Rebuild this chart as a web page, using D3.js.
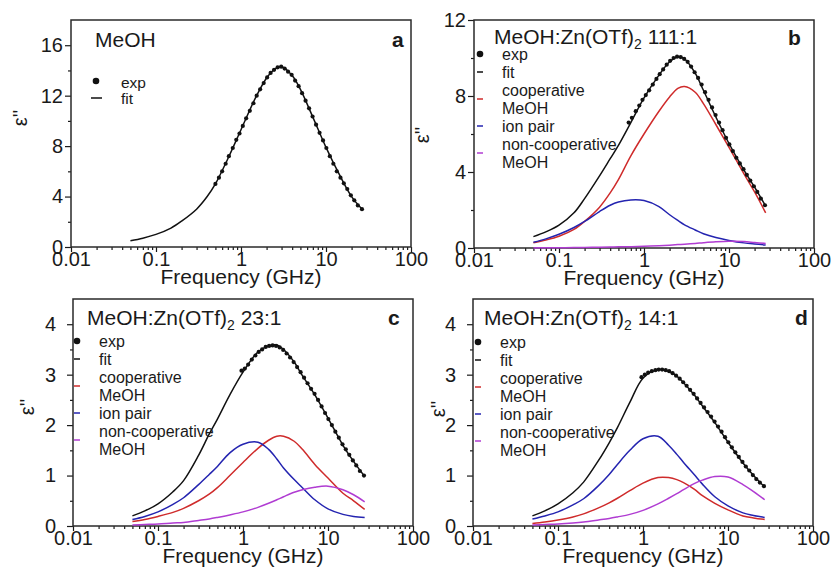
<!DOCTYPE html>
<html>
<head>
<meta charset="utf-8">
<script src="https://cdn.jsdelivr.net/npm/d3@7"></script>
<style>
body { margin: 0; background: #fff; }
svg { font-family: "Liberation Sans", Arial, sans-serif; }
</style>
</head>
<body>
<div id="chart-area"></div>
<script>
// frequencies (GHz) of the fit curves and of the measured points
var fitFreq = [0.05, 0.07, 0.1, 0.15, 0.2, 0.3, 0.4, 0.5, 0.7, 1, 1.5, 2, 2.5, 3, 4, 5, 7, 10, 15, 20, 27];
var expFreq = [0.5, 0.55, 0.6, 0.66, 0.72, 0.8, 0.88, 0.96, 1.05, 1.15, 1.27, 1.4, 1.53, 1.68, 1.85,
	2.03, 2.23, 2.45, 2.7, 2.97, 3.26, 3.58, 3.94, 4.33, 4.76, 5.23, 5.75, 6.32, 6.95, 7.64,
	8.4, 9.23, 10.1, 11.1, 12.2, 13.4, 14.8, 16.2, 17.8, 19.6, 21.5, 23.7, 26.5];

var xTicks = [0.01, 0.1, 1, 10, 100];
var xTickLabels = ["0.01", "0.1", "1", "10", "100"];

// a: MeOH
var fitA = [0.5, 0.7, 1.0, 1.5, 2.05, 3.0, 4.0, 5.0, 7.0, 9.3, 11.9, 13.4, 14.1, 14.3, 13.6, 12.5, 10.3, 7.9, 5.5, 4.0, 2.95];
var expA = [5.0, 5.5, 6.0, 6.6, 7.2, 7.85, 8.5, 9.0, 9.6, 10.2, 10.8, 11.4, 12.0, 12.5, 13.0,
	13.45, 13.8, 14.05, 14.25, 14.3, 14.15, 13.9, 13.65, 13.2, 12.75, 12.2, 11.6, 11.0, 10.35, 9.7,
	9.05, 8.45, 7.85, 7.2, 6.6, 6.0, 5.5, 5.05, 4.6, 4.1, 3.7, 3.3, 3.0];

// b: 111:1
var fitB = [0.6, 0.85, 1.2, 1.85, 2.6, 3.8, 4.7, 5.4, 6.6, 7.9, 9.1, 9.8, 10.07, 9.95, 9.2, 8.3, 6.9, 5.5, 4.1, 3.2, 2.2];
var coopB = [0.28, 0.42, 0.62, 0.98, 1.4, 2.15, 2.9, 3.6, 4.85, 6.0, 7.2, 7.95, 8.4, 8.5, 8.2, 7.6, 6.5, 5.3, 3.9, 2.95, 1.85];
var ionB = [0.3, 0.48, 0.72, 1.08, 1.4, 1.92, 2.25, 2.42, 2.53, 2.5, 2.18, 1.75, 1.45, 1.22, 0.95, 0.75, 0.55, 0.4, 0.27, 0.21, 0.16];
var nonB = [0.0, 0.01, 0.01, 0.02, 0.03, 0.04, 0.05, 0.06, 0.07, 0.09, 0.12, 0.15, 0.18, 0.2, 0.24, 0.28, 0.33, 0.36, 0.34, 0.29, 0.24];
var expB = [6.6, 6.85, 7.2, 7.5, 7.8, 8.05, 8.3, 8.6, 8.9, 9.15, 9.4, 9.65,
	9.85, 10.0, 10.07, 10.05, 9.95, 9.8, 9.55, 9.25, 8.95, 8.6, 8.2, 7.8, 7.4, 7.0, 6.6,
	6.2, 5.8, 5.45, 5.1, 4.75, 4.45, 4.15, 3.85, 3.55, 3.25, 2.95, 2.6, 2.25];

// c: 23:1
var fitC = [0.2, 0.3, 0.44, 0.68, 0.9, 1.4, 1.82, 2.12, 2.6, 3.05, 3.45, 3.57, 3.59, 3.5, 3.25, 2.98, 2.6, 2.14, 1.6, 1.28, 0.98];
var coopC = [0.09, 0.13, 0.19, 0.27, 0.35, 0.5, 0.63, 0.76, 1.0, 1.26, 1.54, 1.7, 1.78, 1.78, 1.68, 1.52, 1.22, 0.95, 0.65, 0.5, 0.33];
var ionC = [0.13, 0.19, 0.28, 0.43, 0.56, 0.82, 1.02, 1.18, 1.45, 1.62, 1.66, 1.52, 1.33, 1.15, 0.92, 0.76, 0.52, 0.34, 0.23, 0.19, 0.17];
var nonC = [0.02, 0.03, 0.04, 0.06, 0.07, 0.11, 0.14, 0.17, 0.22, 0.28, 0.37, 0.45, 0.52, 0.58, 0.67, 0.72, 0.77, 0.79, 0.72, 0.62, 0.48];
var expC = [3.08, 3.12, 3.2, 3.3, 3.38, 3.45, 3.5, 3.55, 3.57, 3.58, 3.57, 3.54, 3.49,
	3.42, 3.34, 3.25, 3.15, 3.05, 2.94, 2.83, 2.72, 2.62, 2.5, 2.37, 2.24, 2.12, 2.0, 1.87,
	1.75, 1.62, 1.52, 1.41, 1.3, 1.2, 1.09, 1.0];

// d: 14:1
var fitD = [0.2, 0.3, 0.44, 0.66, 0.87, 1.3, 1.65, 1.95, 2.45, 2.93, 3.1, 3.07, 2.97, 2.84, 2.6, 2.38, 2.05, 1.66, 1.25, 1.0, 0.77];
var coopD = [0.05, 0.08, 0.12, 0.18, 0.24, 0.36, 0.46, 0.55, 0.7, 0.85, 0.96, 0.96, 0.92, 0.86, 0.73, 0.6, 0.45, 0.32, 0.2, 0.16, 0.13];
var ionD = [0.14, 0.2, 0.28, 0.42, 0.54, 0.8, 1.02, 1.22, 1.5, 1.73, 1.78, 1.6, 1.42, 1.26, 1.02, 0.83, 0.58, 0.4, 0.26, 0.21, 0.17];
var nonD = [0.02, 0.03, 0.04, 0.06, 0.08, 0.12, 0.15, 0.18, 0.23, 0.31, 0.44, 0.55, 0.64, 0.72, 0.84, 0.91, 0.98, 0.97, 0.82, 0.68, 0.52];
var expD = [2.95, 3.0, 3.04, 3.07, 3.09, 3.1, 3.1, 3.09, 3.07, 3.03, 2.98, 2.92, 2.85,
	2.78, 2.7, 2.62, 2.53, 2.44, 2.35, 2.26, 2.17, 2.07, 1.97, 1.87, 1.76, 1.66, 1.56, 1.46,
	1.37, 1.27, 1.18, 1.1, 1.01, 0.93, 0.86, 0.79];

var legendLabels = ["exp", "fit", "cooperative", "MeOH", "ion pair", "non-cooperative", "MeOH"];

var red = "#cf2b2b", blue = "#2424b0", purple = "#b03cd2";
var ink = "#1a1a1a";

var svg = d3.select("#chart-area").append("svg")
	.attr("width", 833)
	.attr("height", 573);

var panels = [
	{letter: "a", left: 71, right: 411, top: 20, bottom: 247, ymax: 18, major: [0, 4, 8, 12, 16], minor: [2, 6, 10, 14],
		title: "MeOH", ratio: null, tx: 95, ty: 47, lx: 392, ly: 47, pad: 2, ylx: 20, yly: 118,
		fit: fitA, exp: expA, comps: []},
	{letter: "b", left: 474, right: 814, top: 20, bottom: 248, ymax: 12, major: [0, 4, 8, 12], minor: [2, 6, 10],
		title: "MeOH:Zn(OTf)", ratio: " 111:1", tx: 494, ty: 44, lx: 788, ly: 45, pad: 2, ylx: 422, yly: 135,
		legX: 480, legY: 54,
		fit: fitB, exp: expB, comps: [[coopB, red], [ionB, blue], [nonB, purple]]},
	{letter: "c", left: 73, right: 413, top: 299, bottom: 526, ymax: 4.5, major: [0, 1, 2, 3, 4], minor: [0.5, 1.5, 2.5, 3.5],
		title: "MeOH:Zn(OTf)", ratio: " 23:1", tx: 87, ty: 325, lx: 388, ly: 325, pad: 11, ylx: 27, yly: 407,
		legX: 77, legY: 341,
		fit: fitC, exp: expC, comps: [[coopC, red], [ionC, blue], [nonC, purple]]},
	{letter: "d", left: 473, right: 813, top: 299, bottom: 526, ymax: 4.5, major: [0, 1, 2, 3, 4], minor: [0.5, 1.5, 2.5, 3.5],
		title: "MeOH:Zn(OTf)", ratio: " 14:1", tx: 484, ty: 325, lx: 795, ly: 325, pad: 11, ylx: 438, yly: 409,
		legX: 478, legY: 342,
		fit: fitD, exp: expD, comps: [[coopD, red], [ionD, blue], [nonD, purple]]}
];

panels.forEach(function(p) {
	var x = d3.scaleLog()
		.domain([0.01, 100])
		.range([p.left, p.right]);

	var y = d3.scaleLinear()
		.domain([0, p.ymax])
		.range([p.bottom, p.top]);

	var g = svg.append("g");

	// axes
	var minorX = x.ticks().filter(function(d) { return xTicks.indexOf(d) < 0; });

	g.append("g")
		.attr("transform", "translate(0," + p.bottom + ")")
		.call(d3.axisBottom(x).tickValues(minorX).tickFormat("").tickSize(3).tickSizeOuter(0));

	var bx = g.append("g")
		.attr("transform", "translate(0," + p.bottom + ")")
		.call(d3.axisBottom(x).tickValues(xTicks)
			.tickFormat(function(d, i) { return xTickLabels[i]; })
			.tickSize(5).tickPadding(0).tickSizeOuter(0));

	g.append("g")
		.attr("transform", "translate(" + p.left + ",0)")
		.call(d3.axisLeft(y).tickValues(p.minor).tickFormat("").tickSize(3).tickSizeOuter(0));

	var ly = g.append("g")
		.attr("transform", "translate(" + p.left + ",0)")
		.call(d3.axisLeft(y).tickValues(p.major).tickFormat(d3.format("d"))
			.tickSize(6).tickPadding(p.pad).tickSizeOuter(0));

	g.selectAll(".domain").remove();
	g.selectAll(".tick line").attr("stroke", ink).attr("stroke-width", 1.2);
	bx.selectAll("text").attr("font-size", "20px").attr("fill", ink).attr("font-family", null);
	ly.selectAll("text").attr("font-size", "20px").attr("fill", ink).attr("font-family", null);

	g.append("rect")
		.attr("x", p.left)
		.attr("y", p.top)
		.attr("width", p.right - p.left)
		.attr("height", p.bottom - p.top)
		.attr("fill", "none")
		.attr("stroke", "#2a2a2a")
		.attr("stroke-width", 1.5);

	// axis labels
	g.append("text")
		.attr("x", (p.left + p.right) / 2)
		.attr("y", p.bottom + 37)
		.attr("font-size", "21px")
		.attr("text-anchor", "middle")
		.attr("fill", ink)
		.text("Frequency (GHz)");

	g.append("text")
		.attr("transform", "translate(" + p.ylx + "," + p.yly + ") rotate(-90)")
		.attr("font-size", "20px")
		.attr("text-anchor", "middle")
		.attr("dy", "0.35em")
		.attr("fill", ink)
		.text("\u03b5''");

	// curves
	var line = d3.line()
		.x(function(d, i) { return x(fitFreq[i]); })
		.y(function(d) { return y(d); })
		.curve(d3.curveCatmullRom.alpha(0.5));

	p.comps.forEach(function(c) {
		g.append("path")
			.attr("d", line(c[0]))
			.attr("fill", "none")
			.attr("stroke", c[1])
			.attr("stroke-width", 1.5);
	});

	g.append("path")
		.attr("d", line(p.fit))
		.attr("fill", "none")
		.attr("stroke", "#111")
		.attr("stroke-width", 1.5);

	var off = expFreq.length - p.exp.length;
	g.selectAll("circle.exp")
		.data(p.exp)
		.enter()
		.append("circle")
		.attr("class", "exp")
		.attr("cx", function(d, i) { return x(expFreq[off + i]); })
		.attr("cy", function(d) { return y(d); })
		.attr("r", 2.1)
		.attr("fill", "#111");

	// title and panel letter
	var t = g.append("text")
		.attr("x", p.tx)
		.attr("y", p.ty)
		.attr("font-size", "21px")
		.attr("fill", ink)
		.text(p.title);
	if (p.ratio) {
		t.append("tspan").attr("font-size", "14px").attr("dy", 5).text("2");
		t.append("tspan").attr("dy", -5).text(p.ratio);
	}

	g.append("text")
		.attr("x", p.lx)
		.attr("y", p.ly)
		.attr("font-size", "21px")
		.attr("font-weight", "bold")
		.attr("fill", ink)
		.text(p.letter);

	// legend
	if (p.comps.length === 0) {
		g.append("circle").attr("cx", 96).attr("cy", 81).attr("r", 3.3).attr("fill", "#111");
		g.append("text").attr("x", 121).attr("y", 83).attr("dy", "0.35em")
			.attr("font-size", "15.5px").attr("fill", ink).text(legendLabels[0]);
		g.append("line").attr("x1", 91).attr("x2", 102).attr("y1", 98).attr("y2", 98)
			.attr("stroke", "#111").attr("stroke-width", 1.5);
		g.append("text").attr("x", 121).attr("y", 99).attr("dy", "0.35em")
			.attr("font-size", "15.5px").attr("fill", ink).text(legendLabels[1]);
	} else {
		var tx = p.legX + 22;
		legendLabels.forEach(function(lab, i) {
			g.append("text")
				.attr("x", tx)
				.attr("y", p.legY + i * 18)
				.attr("dy", "0.35em")
				.attr("font-size", "16px")
				.attr("fill", ink)
				.text(lab);
		});
		g.append("circle").attr("cx", p.legX).attr("cy", p.legY).attr("r", 3.3).attr("fill", "#111");
		var dashes = [["#111", 18], [red, 45], [blue, 72], [purple, 99]];
		dashes.forEach(function(dd) {
			g.append("line")
				.attr("x1", p.legX - 3).attr("x2", p.legX + 3)
				.attr("y1", p.legY + dd[1]).attr("y2", p.legY + dd[1])
				.attr("stroke", dd[0]).attr("stroke-width", 1.5);
		});
	}
});
</script>
</body>
</html>
